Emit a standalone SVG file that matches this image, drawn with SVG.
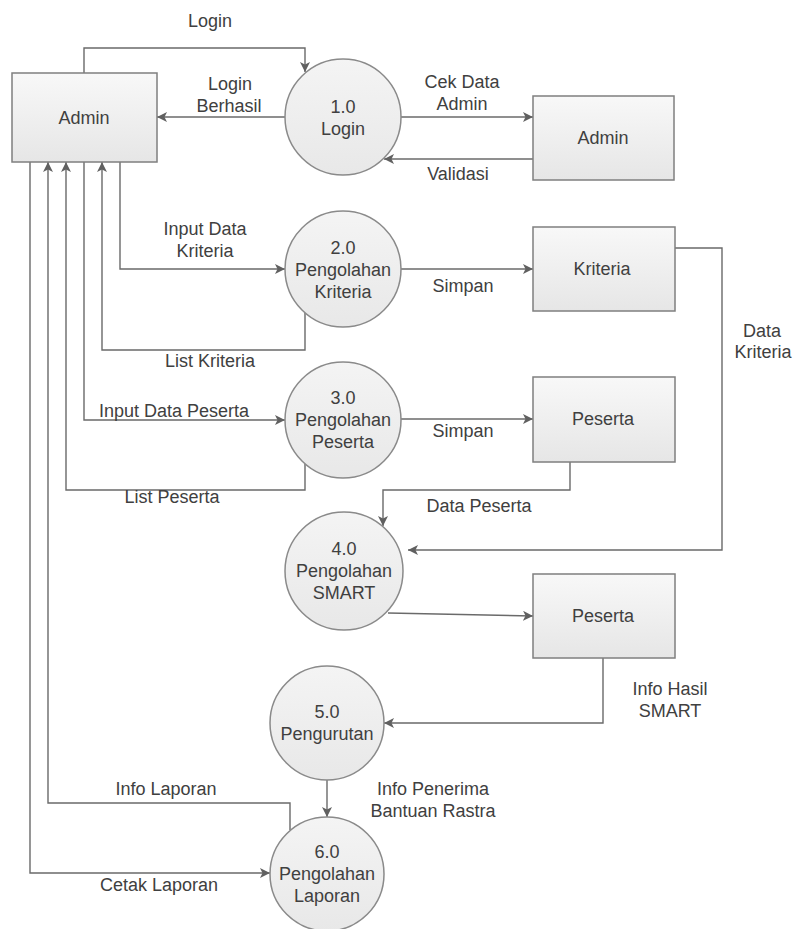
<svg xmlns="http://www.w3.org/2000/svg" width="793" height="929" viewBox="0 0 793 929">
<defs>
<linearGradient id="boxg" x1="0" y1="0" x2="0" y2="1"><stop offset="0" stop-color="#f8f8f8"/><stop offset="1" stop-color="#e6e6e6"/></linearGradient>
<linearGradient id="circg" x1="0" y1="0" x2="0" y2="1"><stop offset="0" stop-color="#f4f4f4"/><stop offset="1" stop-color="#e8e8e8"/></linearGradient>
<marker id="arr" viewBox="0 0 10 10" refX="10" refY="5" markerWidth="10" markerHeight="10" markerUnits="userSpaceOnUse" orient="auto"><path d="M0,0 L10,5 L0,10 L2.5,5 z" fill="#606060"/></marker>
</defs>
<style>
.box{fill:url(#boxg);stroke:#7f7f7f;stroke-width:1.5}
.proc{fill:url(#circg);stroke:#8a8a8a;stroke-width:1.5}
.t{font-family:"Liberation Sans",Arial,sans-serif;font-size:18px;fill:#404040;text-anchor:middle}
.e{fill:none;stroke:#6a6a6a;stroke-width:1.4;marker-end:url(#arr)}
</style>
<rect width="793" height="929" fill="#ffffff"/>
<g id="connectors">
<path class="e" d="M84,73 V48 H305 V72"/>
<path class="e" d="M285,117 H157"/>
<path class="e" d="M401,117 H533"/>
<path class="e" d="M533,159 H384"/>
<path class="e" d="M120,162 V269 H285"/>
<path class="e" d="M305,313 V350 H102 V162"/>
<path class="e" d="M401,269 H533"/>
<path class="e" d="M84,162 V420 H285"/>
<path class="e" d="M305,464 V490 H66 V162"/>
<path class="e" d="M401,419 H533"/>
<path class="e" d="M570,462 V490 H383 V526"/>
<path class="e" d="M675,248 H722 V550 H408"/>
<path class="e" d="M388,613 L533,616"/>
<path class="e" d="M603,658 V723 H384"/>
<path class="e" d="M327,780 V817"/>
<path class="e" d="M290,830 V803 H48 V162"/>
<path class="e" d="M30,162 V873 H270"/>
</g>
<g id="edge-labels">
<text class="t" x="210" y="27">Login</text>
<text class="t" x="230" y="90">Login</text>
<text class="t" x="229" y="112">Berhasil</text>
<text class="t" x="462" y="88">Cek Data</text>
<text class="t" x="462" y="110">Admin</text>
<text class="t" x="458" y="180">Validasi</text>
<text class="t" x="205" y="235">Input Data</text>
<text class="t" x="205" y="257">Kriteria</text>
<text class="t" x="210" y="367">List Kriteria</text>
<text class="t" x="463" y="292">Simpan</text>
<text class="t" x="762" y="337">Data</text>
<text class="t" x="763" y="358">Kriteria</text>
<text class="t" x="174" y="417">Input Data Peserta</text>
<text class="t" x="172" y="503">List Peserta</text>
<text class="t" x="463" y="437">Simpan</text>
<text class="t" x="479" y="512">Data Peserta</text>
<text class="t" x="670" y="695">Info Hasil</text>
<text class="t" x="670" y="717">SMART</text>
<text class="t" x="166" y="795">Info Laporan</text>
<text class="t" x="433" y="795">Info Penerima</text>
<text class="t" x="433" y="817">Bantuan Rastra</text>
<text class="t" x="159" y="891">Cetak Laporan</text>
</g>
<g id="ext-admin"><rect class="box" x="12" y="73" width="145" height="89"/><text class="t" x="84" y="124">Admin</text></g>
<g id="ds-admin"><rect class="box" x="533" y="96" width="141" height="84"/><text class="t" x="603" y="144">Admin</text></g>
<g id="ds-kriteria"><rect class="box" x="533" y="227" width="142" height="84"/><text class="t" x="602" y="275">Kriteria</text></g>
<g id="ds-peserta"><rect class="box" x="533" y="377" width="142" height="85"/><text class="t" x="603" y="425">Peserta</text></g>
<g id="ds-peserta2"><rect class="box" x="533" y="574" width="142" height="84"/><text class="t" x="603" y="622">Peserta</text></g>
<g id="p1"><circle class="proc" cx="343" cy="117" r="58"/><text class="t" x="343" y="113">1.0</text><text class="t" x="343" y="135">Login</text></g>
<g id="p2"><circle class="proc" cx="343" cy="269" r="58"/><text class="t" x="343" y="254">2.0</text><text class="t" x="343" y="276">Pengolahan</text><text class="t" x="343" y="298">Kriteria</text></g>
<g id="p3"><circle class="proc" cx="343" cy="420" r="58"/><text class="t" x="343" y="404">3.0</text><text class="t" x="343" y="426">Pengolahan</text><text class="t" x="343" y="448">Peserta</text></g>
<g id="p4"><circle class="proc" cx="344" cy="571" r="59"/><text class="t" x="344" y="555">4.0</text><text class="t" x="344" y="577">Pengolahan</text><text class="t" x="344" y="599">SMART</text></g>
<g id="p5"><circle class="proc" cx="327" cy="723" r="57"/><text class="t" x="327" y="718">5.0</text><text class="t" x="327" y="740">Pengurutan</text></g>
<g id="p6"><circle class="proc" cx="327" cy="874" r="57"/><text class="t" x="327" y="858">6.0</text><text class="t" x="327" y="880">Pengolahan</text><text class="t" x="327" y="902">Laporan</text></g>
</svg>
